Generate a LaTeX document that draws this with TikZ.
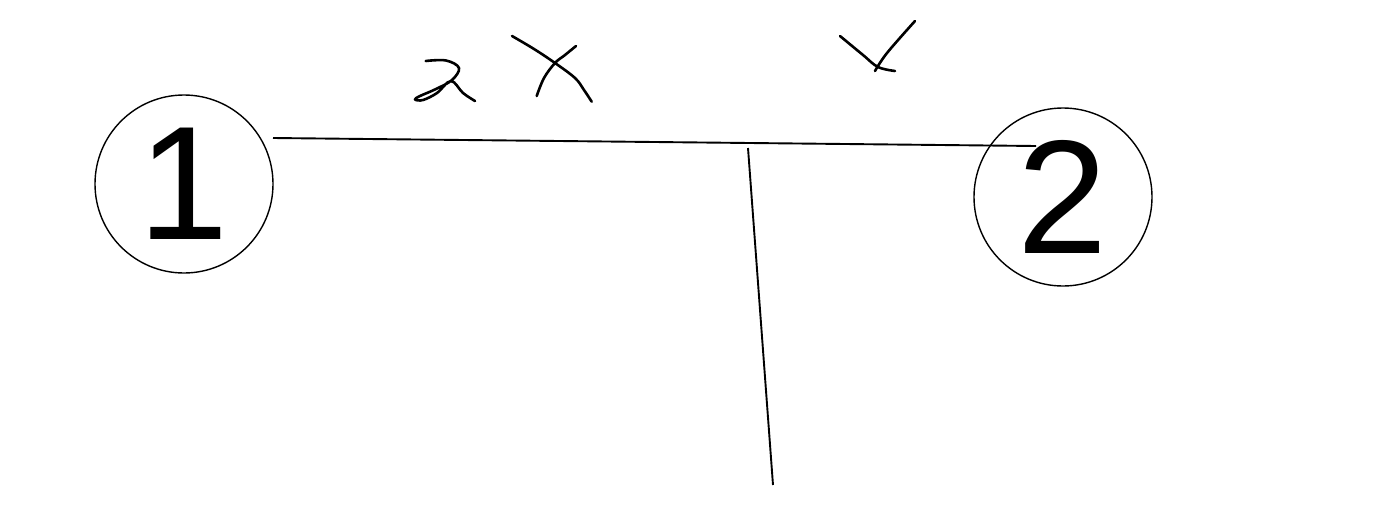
\documentclass[tikz,border=0pt]{standalone}
\usepackage{fontspec}
\setmainfont{Liberation Sans}
\usepackage{tikz}
\usetikzlibrary{positioning}

\begin{document}
\begin{tikzpicture}[
            x=1pt, y=-1pt,
            numnode/.style={
                circle,
                draw=black,
                line width=1.4pt,
                minimum size=178pt,
                inner sep=0pt,
                font=\fontsize{162}{162}\selectfont
            },
            line/.style={
                draw,
                line width=1.9pt
            },
            hand/.style={
                draw,
                line width=2.6pt,
                line cap=round,
                line join=round
            }
        ]
            \useasboundingbox (0,0) rectangle (1382,520);

            % --- NODOS ---
            \node [numnode] (n1) at (184,184) {1};
            \node [numnode] (n2) at (1063,197) {2};

            % --- PUNTOS DE LAS LINEAS ---
            \coordinate (start) at (273,138);
            \coordinate (stop) at (1036,146);
            \coordinate (tee) at (748,148);
            \coordinate (foot) at (773,485);

            % --- ENLACES ---
            \path [line] (start) -- (stop);
            \path [line] (tee) -- (foot);

            % --- ANOTACIONES A MANO ---
            % "2"
            \path [hand] plot [smooth, tension=0.6] coordinates {(425.7,61) (446,60.5) (459,68) (452,80) (436,89) (420,96) (415,99.5) (423,100) (437,93) (451,81) (463,93) (475,101)};
            % "x"
            \path [hand] plot [smooth, tension=0.6] coordinates {(512,36) (534,49) (555,63) (575,78) (584,90) (591.7,101.7)};
            \path [hand] plot [smooth, tension=0.6] coordinates {(576,46) (565,55) (555,63) (544,78) (536.7,96)};
            % marca
            \path [hand] plot [smooth, tension=0.6] coordinates {(840,36) (863,55) (878,67) (895,71)};
            \path [hand] plot [smooth, tension=0.6] coordinates {(915,21) (887,53) (875,71)};
        \end{tikzpicture}
\end{document}
